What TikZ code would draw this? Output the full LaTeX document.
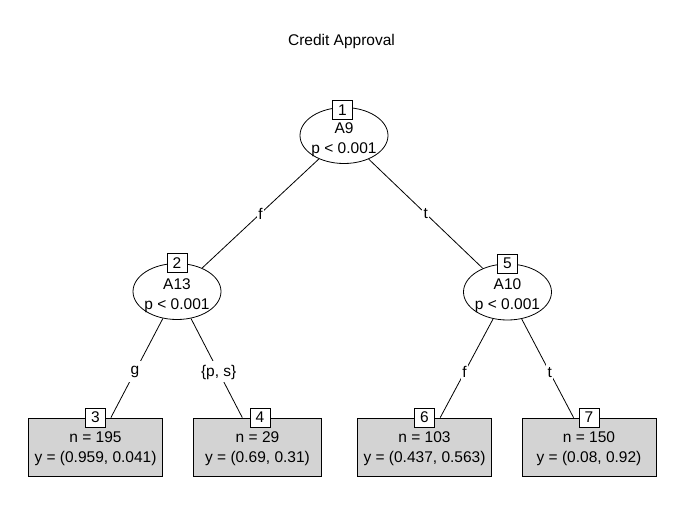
\documentclass[tikz,border=0pt]{standalone}
\usepackage{fontspec}
\setmainfont{Liberation Sans}
\usepackage{tikz}
\usetikzlibrary{shapes.geometric}
\definecolor{leafgray}{HTML}{D3D3D3}

\begin{document}
\begin{tikzpicture}
      [
        x=1pt, y=-1pt, line width=0.8pt,
        every node/.style={font=\fontsize{15.5}{20}\selectfont},
        splitnode/.style={ellipse, draw, minimum width=88pt, minimum height=56pt, inner sep=0pt},
        splittext/.style={align=center, yshift=-4pt},
        leafnode/.style={rectangle, draw, fill=leafgray, minimum height=58pt, inner sep=0pt},
        leaftext/.style={align=center, yshift=-2pt},
        idbox/.style={rectangle, draw, fill=white, minimum width=20pt, minimum height=19pt, inner sep=0pt},
        edgelab/.style={fill=white, inner sep=1.5pt, minimum height=21pt}
      ]
      \useasboundingbox (0,0) rectangle (675,524);
      \node (title) at (341.5,41) {Credit Approval};
      % inner nodes
      \node[splitnode, label={[splittext, name=t1]center:A9\\p < 0.001}] (n1) at (344,135.5) {};
      \node[splitnode, label={[splittext, name=t2]center:A13\\p < 0.001}] (n2) at (177,291.5) {};
      \node[splitnode, label={[splittext, name=t5]center:A10\\p < 0.001}] (n5) at (507.5,292) {};
      % terminal nodes
      \node[leafnode, minimum width=134.5pt, label={[leaftext, name=t3]center:n = 195\\y = (0.959, 0.041)}] (n3) at (95.5,447) {};
      \node[leafnode, minimum width=128.5pt, label={[leaftext, name=t4]center:n = 29\\y = (0.69, 0.31)}] (n4) at (257.5,447) {};
      \node[leafnode, minimum width=134.5pt, label={[leaftext, name=t6]center:n = 103\\y = (0.437, 0.563)}] (n6) at (424.5,447) {};
      \node[leafnode, minimum width=134pt, label={[leaftext, name=t7]center:n = 150\\y = (0.08, 0.92)}] (n7) at (589,447) {};
      % edges
      \draw (n1) -- node[edgelab] {f} (n2);
      \draw (n1) -- node[edgelab] {t} (n5);
      \draw (n2) -- node[edgelab, pos=0.54] {g} (n3);
      \draw (n2) -- node[edgelab, pos=0.54] {\{p, s\}} (n4);
      \draw (n5) -- node[edgelab, pos=0.54] {f} (n6);
      \draw (n5) -- node[edgelab, pos=0.54] {t} (n7);
      % node ids
      \node[idbox] (b1) at ([xshift=-1.5pt, yshift=-3pt]n1.north) {1};
      \node[idbox] (b2) at (n2.north) {2};
      \node[idbox] (b5) at (n5.north) {5};
      \node[idbox] (b3) at (n3.north) {3};
      \node[idbox] (b4) at ([xshift=2.5pt]n4.north) {4};
      \node[idbox] (b6) at (n6.north) {6};
      \node[idbox] (b7) at (n7.north) {7};
    \end{tikzpicture}
\end{document}
